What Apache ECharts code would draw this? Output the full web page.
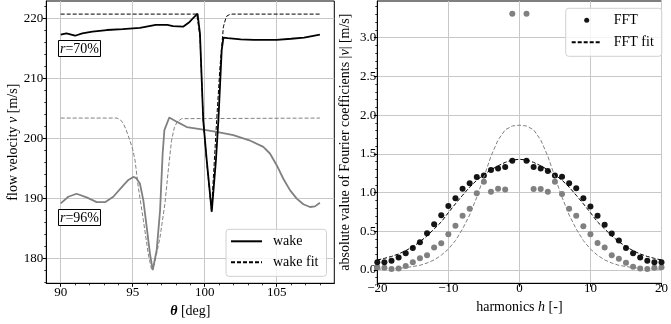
<!DOCTYPE html>
<html><head><meta charset="utf-8">
<script src="https://cdn.jsdelivr.net/npm/echarts@6/dist/echarts.min.js"></script>
<style>html,body{margin:0;padding:0;background:#fff}#c{width:671px;height:324px}</style>
</head><body><div id="c"></div>
<script>
// ---- left panel: wake profiles ----
const theta70 = [90, 90.4, 91.0, 91.5, 92.2, 93.2, 94.3, 95.5, 96.6, 97.4, 97.8, 98.5, 98.95, 99.3, 99.5, 99.67, 99.9, 100.14, 100.49, 100.78, 100.95, 101.18, 101.3, 101.6, 102.5, 103.4, 105, 106, 106.9, 108];
const vel70 = [217.3, 217.5, 217.1, 217.5, 217.8, 218.05, 218.2, 218.4, 218.9, 218.9, 218.7, 218.6, 219.4, 220.3, 220.8, 217.5, 203, 196.4, 187.8, 196.4, 203, 214.7, 216.8, 216.7, 216.5, 216.4, 216.4, 216.6, 216.8, 217.3];
const thetaFit70 = [90, 99.45, 99.55, 99.67, 99.9, 100.14, 100.47, 100.83, 101.06, 101.3, 101.5, 101.7, 101.9, 108];
const velFit70 = [220.7, 220.7, 220.4, 217, 203, 196, 188, 203, 211.9, 218.6, 220.3, 220.6, 220.7, 220.7];
const theta96 = [90, 90.53, 91.1, 91.8, 92.5, 93.08, 93.65, 94.35, 94.7, 95.04, 95.25, 95.5, 95.74, 95.97, 96.2, 96.39, 96.67, 96.9, 97.08, 97.2, 97.54, 98.05, 98.75, 99.67, 100.83, 101.99, 103.1, 104.07, 104.53, 105.0, 105.46, 105.92, 106.39, 106.85, 107.31, 107.66, 108];
const vel96 = [189.2, 190.3, 190.8, 190.2, 189.4, 189.4, 190.3, 192.2, 193.1, 193.6, 193.4, 192.5, 189.7, 185.3, 180.8, 178.1, 181.5, 188.0, 197.5, 201.4, 203.5, 202.8, 201.9, 201.55, 201.1, 200.55, 199.7, 198.6, 197.5, 195.55, 193.3, 191.4, 190.0, 189.05, 188.6, 188.7, 189.3];
const thetaFit96 = [90, 93.9, 94.15, 94.35, 94.55, 94.8, 95.0, 95.16, 95.39, 95.74, 96.08, 96.3, 96.5, 96.9, 97.24, 97.47, 97.7, 97.9, 98.1, 98.4, 108];
const velFit96 = [203.4, 203.4, 203.1, 202.5, 201.4, 199.7, 198.2, 196.4, 191.9, 186.4, 180.8, 178.3, 179.0, 183.6, 189.2, 194.7, 199.7, 201.9, 202.8, 203.3, 203.4];
const leftXTicks = [90, 95, 100, 105];
const leftXMinor = [91, 92, 93, 94, 96, 97, 98, 99, 101, 102, 103, 104, 106, 107, 108];
const leftYTicks = [180, 190, 200, 210, 220];
const leftYMinor = [176, 178, 182, 184, 186, 188, 192, 194, 196, 198, 202, 204, 206, 208, 212, 214, 216, 218, 222];

// ---- right panel: Fourier coefficients ----
const harmonics = [-20,-19,-18,-17,-16,-15,-14,-13,-12,-11,-10,-9,-8,-7,-6,-5,-4,-3,-2,-1,1,2,3,4,5,6,7,8,9,10,11,12,13,14,15,16,17,18,19,20];
const fftAbs70 = [0.10,0.10,0.12,0.16,0.215,0.284,0.357,0.474,0.59,0.706,0.827,0.926,1.05,1.12,1.20,1.22,1.29,1.31,1.33,1.41, 1.41,1.33,1.31,1.28,1.22,1.205,1.12,1.055,0.926,0.82,0.70,0.585,0.47,0.38,0.284,0.215,0.16,0.12,0.10,0.10];
const fftAbs96 = [0.035,0.03,0.013,0.02,0.05,0.10,0.15,0.19,0.29,0.345,0.46,0.57,0.70,0.79,0.99,1.14,1.01,1.05,1.04,3.31, 3.31,1.045,1.045,1.01,1.14,0.98,0.79,0.70,0.565,0.46,0.35,0.29,0.19,0.146,0.094,0.043,0.02,0.013,0.03,0.035];
const harmonicsFit = [-20,-19,-18,-17,-16,-15,-14,-13,-12,-11,-10,-9,-8,-7,-6,-5,-4,-3,-2,-1,0,1,2,3,4,5,6,7,8,9,10,11,12,13,14,15,16,17,18,19,20];
const fftFit70 = [0.129,0.15,0.175,0.207,0.25,0.30,0.365,0.44,0.53,0.62,0.74,0.855,0.965,1.07,1.16,1.23,1.295,1.345,1.39,1.42,1.43, 1.42,1.39,1.345,1.295,1.23,1.16,1.07,0.965,0.855,0.74,0.62,0.53,0.44,0.365,0.30,0.25,0.207,0.175,0.15,0.129];
const fftFit96 = [0.01,0.013,0.017,0.022,0.03,0.045,0.06,0.09,0.13,0.19,0.27,0.38,0.53,0.71,0.94,1.20,1.47,1.68,1.81,1.86,1.87, 1.86,1.81,1.68,1.47,1.20,0.94,0.71,0.53,0.38,0.27,0.19,0.13,0.09,0.06,0.045,0.03,0.022,0.017,0.013,0.01];
const rightXTicks = [-20, -10, 0, 10, 20];
const rightYTicks = [0, 0.5, 1.0, 1.5, 2.0, 2.5, 3.0];
const rightYMinor = [-0.1,0.1,0.2,0.3,0.4,0.6,0.7,0.8,0.9,1.1,1.2,1.3,1.4,1.6,1.7,1.8,1.9,2.1,2.2,2.3,2.4,2.6,2.7,2.8,2.9,3.1,3.2,3.3,3.4];

const FONT = 'Liberation Serif';
const zip = (a, b) => a.map((v, i) => [v, b[i]]);
const chart = echarts.init(document.getElementById('c'), null, {renderer: 'canvas'});

const G0 = {left: 46.3, top: 1, width: 288, height: 282.3};
const G1 = {left: 377.3, top: 1, width: 287.7, height: 282.3};
const gridStyle = {show: true, borderColor: '#000', borderWidth: 1, backgroundColor: 'transparent'};
const labelStyle = {color: '#000', fontFamily: FONT, fontSize: 13};
const splitStyle = {show: true, lineStyle: {color: '#c8c8c8', width: 1}};
const minus = v => String(v).replace('-', '\u2212');
const axLine = {show: true, onZero: false, lineStyle: {color: '#000', width: 1}};
const noLine = {show: false, onZero: false};

const option = {
  animation: false,
  textStyle: {fontFamily: FONT},
  grid: [Object.assign({}, G0, gridStyle), Object.assign({}, G1, gridStyle)],
  title: [
    {text: '{i|r}=70%', left: 58, top: 40, padding: [2, 2, 1, 2], borderColor: '#000', borderWidth: 1, backgroundColor: '#fff',
     textStyle: {fontFamily: FONT, fontSize: 14, fontWeight: 'normal', color: '#000', rich: {i: {fontStyle: 'italic', fontFamily: FONT, fontSize: 14}}}},
    {text: '{i|r}=96%', left: 58, top: 209, padding: [2, 2, 1, 2], borderColor: '#000', borderWidth: 1, backgroundColor: '#fff',
     textStyle: {fontFamily: FONT, fontSize: 14, fontWeight: 'normal', color: '#000', rich: {i: {fontStyle: 'italic', fontFamily: FONT, fontSize: 14}}}}
  ],
  legend: [
    {data: [{name: 'wake', itemStyle: {opacity: 0}}, {name: 'wake fit', itemStyle: {opacity: 0}}],
     orient: 'vertical', left: 226, top: 229.3, itemWidth: 31, itemHeight: 14, itemGap: 7,
     padding: [5, 8, 7, 4], borderColor: '#d0d0d0', borderWidth: 1, borderRadius: 3, backgroundColor: 'rgba(255,255,255,0.8)',
     textStyle: {fontFamily: FONT, fontSize: 14, color: '#000', padding: [0, 0, 0, 6]}},
    {data: [{name: 'FFT', icon: 'path://M0,0M30,14M12.5,7a2.5,2.5 0 1,0 5,0a2.5,2.5 0 1,0 -5,0Z'}, {name: 'FFT fit', itemStyle: {opacity: 0}}],
     orient: 'vertical', left: 565.7, top: 8.3, itemWidth: 30, itemHeight: 14, itemGap: 8,
     padding: [5, 8, 7, 5], borderColor: '#d0d0d0', borderWidth: 1, borderRadius: 3, backgroundColor: 'rgba(255,255,255,0.8)',
     textStyle: {fontFamily: FONT, fontSize: 14, color: '#000', padding: [0, 0, 0, 7]}}
  ],
  xAxis: [
    {gridIndex: 0, type: 'value', min: 89, max: 109, position: 'bottom',
     name: '{b|θ} [deg]', nameLocation: 'middle', nameGap: 12,
     nameTextStyle: {fontFamily: FONT, fontSize: 14, color: '#000', verticalAlign: 'top', rich: {b: {fontStyle: 'italic', fontWeight: 'bold', fontFamily: FONT, fontSize: 14}}},
     axisLine: axLine,
     axisTick: {show: true, customValues: leftXTicks, length: 3.5, lineStyle: {color: '#000'}},
     axisLabel: {customValues: leftXTicks, margin: 3, ...labelStyle},
     splitLine: splitStyle},
    {gridIndex: 0, type: 'value', min: 89, max: 109, position: 'bottom',
     axisLine: noLine, axisLabel: {show: false}, splitLine: {show: false},
     axisTick: {show: true, customValues: leftXMinor, length: 2, lineStyle: {color: '#000', width: 0.8}}},
    {gridIndex: 1, type: 'value', min: -20, max: 20, position: 'bottom',
     name: 'harmonics {i|h} [-]', nameLocation: 'middle', nameGap: 12,
     nameTextStyle: {fontFamily: FONT, fontSize: 14, color: '#000', verticalAlign: 'top', rich: {i: {fontStyle: 'italic', fontFamily: FONT, fontSize: 14}}},
     axisLine: axLine,
     axisTick: {show: true, customValues: rightXTicks, length: 3.5, lineStyle: {color: '#000'}},
     axisLabel: {customValues: rightXTicks, margin: -1, formatter: minus, ...labelStyle},
     splitLine: splitStyle}
  ],
  yAxis: [
    {gridIndex: 0, type: 'value', min: 175.9, max: 222.88, position: 'left',
     name: 'flow velocity {i|ν} [m/s]', nameLocation: 'middle', nameGap: 26,
     nameTextStyle: {fontFamily: FONT, fontSize: 14, color: '#000', rich: {i: {fontStyle: 'italic', fontFamily: FONT, fontSize: 14}}},
     axisLine: axLine,
     axisTick: {show: true, customValues: leftYTicks, length: 3.5, lineStyle: {color: '#000'}},
     axisLabel: {customValues: leftYTicks, margin: 3, ...labelStyle},
     splitLine: splitStyle},
    {gridIndex: 0, type: 'value', min: 175.9, max: 222.88, position: 'left',
     axisLine: noLine, axisLabel: {show: false}, splitLine: {show: false},
     axisTick: {show: true, customValues: leftYMinor, length: 2, lineStyle: {color: '#000', width: 0.8}}},
    {gridIndex: 1, type: 'value', min: -0.172, max: 3.474, position: 'left',
     name: 'absolute value of Fourier coefficients |{i|ν}| [m/s]', nameLocation: 'middle', nameGap: 25,
     nameTextStyle: {fontFamily: FONT, fontSize: 14, color: '#000', rich: {i: {fontStyle: 'italic', fontFamily: FONT, fontSize: 14}}},
     axisLine: axLine,
     axisTick: {show: true, customValues: rightYTicks, length: 3.5, lineStyle: {color: '#000'}},
     axisLabel: {customValues: rightYTicks, margin: 1, formatter: v => v.toFixed(1), ...labelStyle},
     splitLine: splitStyle},
    {gridIndex: 1, type: 'value', min: -0.172, max: 3.474, position: 'left',
     axisLine: noLine, axisLabel: {show: false}, splitLine: {show: false},
     axisTick: {show: true, customValues: rightYMinor, length: 2, lineStyle: {color: '#000', width: 0.8}}}
  ],
  series: [
    {name: 'wake fit 96', type: 'line', xAxisIndex: 0, yAxisIndex: 0, symbol: 'none', silent: true,
     data: zip(thetaFit96, velFit96), lineStyle: {color: '#808080', width: 1, type: [4, 2]}, itemStyle: {color: '#808080'}},
    {name: 'wake fit', type: 'line', xAxisIndex: 0, yAxisIndex: 0, symbol: 'none', silent: true,
     data: zip(thetaFit70, velFit70), lineStyle: {color: '#000', width: 1, type: [4, 2]}, itemStyle: {color: '#000'}},
    {name: 'wake 96', type: 'line', xAxisIndex: 0, yAxisIndex: 0, symbol: 'none', silent: true,
     data: zip(theta96, vel96), lineStyle: {color: '#808080', width: 1.8}, itemStyle: {color: '#808080'}},
    {name: 'wake', type: 'line', xAxisIndex: 0, yAxisIndex: 0, symbol: 'none', silent: true,
     data: zip(theta70, vel70), lineStyle: {color: '#000', width: 1.8}, itemStyle: {color: '#000'}},
    {name: 'FFT fit 96', type: 'line', xAxisIndex: 2, yAxisIndex: 2, symbol: 'none', silent: true,
     data: zip(harmonicsFit, fftFit96), lineStyle: {color: '#808080', width: 1, type: [4, 2]}, itemStyle: {color: '#808080'}},
    {name: 'FFT fit', type: 'line', xAxisIndex: 2, yAxisIndex: 2, symbol: 'none', silent: true,
     data: zip(harmonicsFit, fftFit70), lineStyle: {color: '#000', width: 1, type: [4, 2]}, itemStyle: {color: '#000'}},
    {name: 'FFT 96', type: 'scatter', xAxisIndex: 2, yAxisIndex: 2, symbolSize: 6, silent: true,
     data: zip(harmonics, fftAbs96), itemStyle: {color: '#808080', opacity: 1}},
    {name: 'FFT', type: 'scatter', xAxisIndex: 2, yAxisIndex: 2, symbolSize: 6, silent: true,
     data: zip(harmonics, fftAbs70), itemStyle: {color: '#151515', opacity: 1}}
  ]
};
chart.setOption(option);
</script></body></html>
